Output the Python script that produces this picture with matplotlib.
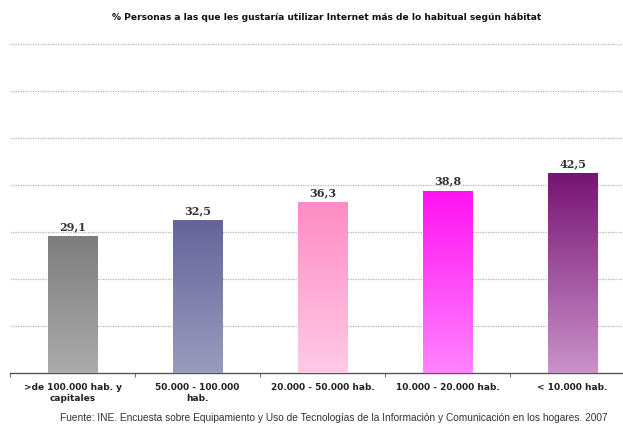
import numpy as np
import matplotlib
matplotlib.use("Agg")
import matplotlib.pyplot as plt
from matplotlib.colors import LinearSegmentedColormap

categories = [">de 100.000 hab. y\ncapitales", "50.000 - 100.000\nhab.",
              "20.000 - 50.000 hab.", "10.000 - 20.000 hab.", "< 10.000 hab."]
values = [29.1, 32.5, 36.3, 38.8, 42.5]
value_labels = ["29,1", "32,5", "36,3", "38,8", "42,5"]
# (top colour, bottom colour) of each bar's vertical gradient
bar_gradients = [("#7d7d7d", "#ababab"),
                 ("#64649a", "#9b9bbf"),
                 ("#ff8cc4", "#ffcae6"),
                 ("#ff12f2", "#ff84ff"),
                 ("#761474", "#ca92ca")]

title = "% Personas a las que les gustaría utilizar Internet más de lo habitual según hábitat"
source = ("Fuente: INE. Encuesta sobre Equipamiento y Uso de Tecnologías de la Información "
          "y Comunicación en los hogares. 2007")

fig = plt.figure(figsize=(6.23, 4.24), dpi=100)
ax = fig.add_axes([10 / 623, 51 / 424, 625 / 623, 329 / 424])

x = np.arange(len(categories))
width = 0.4
bars = ax.bar(x, values, width=width, color="none", edgecolor="none", zorder=3)

grad = np.linspace(0, 1, 256).reshape(-1, 1)
for b, (top, bottom) in zip(bars, bar_gradients):
    cmap = LinearSegmentedColormap.from_list("g", [top, bottom])
    x0, y0 = b.get_x(), b.get_y()
    img = ax.imshow(grad, cmap=cmap, aspect="auto", origin="upper",
                    extent=(x0, x0 + b.get_width(), y0, y0 + b.get_height()),
                    zorder=3, interpolation="bilinear")
    img.set_clip_path(b)

for xi, v, lab in zip(x, values, value_labels):
    ax.annotate(lab, (xi, v), xytext=(0, 3), textcoords="offset points",
                ha="center", va="bottom", fontsize=8, color="#333333",
                fontfamily="DejaVu Serif", fontweight="bold")

ax.set_xlim(-0.5, len(categories) - 0.5)
ax.set_ylim(0, 70)
ax.set_yticks(np.arange(10, 71, 10))
ax.tick_params(axis="y", length=0, labelleft=False)
ax.yaxis.grid(True, linestyle=(0, (1, 1)), color="#b5b5b5", linewidth=0.9, zorder=0)
ax.set_axisbelow(True)

ax.set_xticks(x)
ax.set_xticklabels(categories, fontsize=6.5, fontweight="bold", color="#222222",
                   fontfamily="DejaVu Sans", linespacing=1.3)
ax.tick_params(axis="x", which="major", length=0, pad=7)
ax.set_xticks(np.arange(-0.5, len(categories)), minor=True)
ax.tick_params(axis="x", which="minor", length=3, color="#555555", direction="out")

for s in ("left", "right", "top"):
    ax.spines[s].set_visible(False)
ax.spines["bottom"].set_color("#555555")
ax.spines["bottom"].set_linewidth(1.0)

fig.text(327 / 623, 1 - 18 / 424, title, ha="center", va="center",
         fontsize=6.6, fontweight="bold", color="#111111", fontfamily="DejaVu Sans")
fig.text(334 / 623, 1 - 418 / 424, source, ha="center", va="center",
         fontsize=7.3, color="#333333", fontfamily="Liberation Sans")

fig.savefig("out.png", dpi=100)
